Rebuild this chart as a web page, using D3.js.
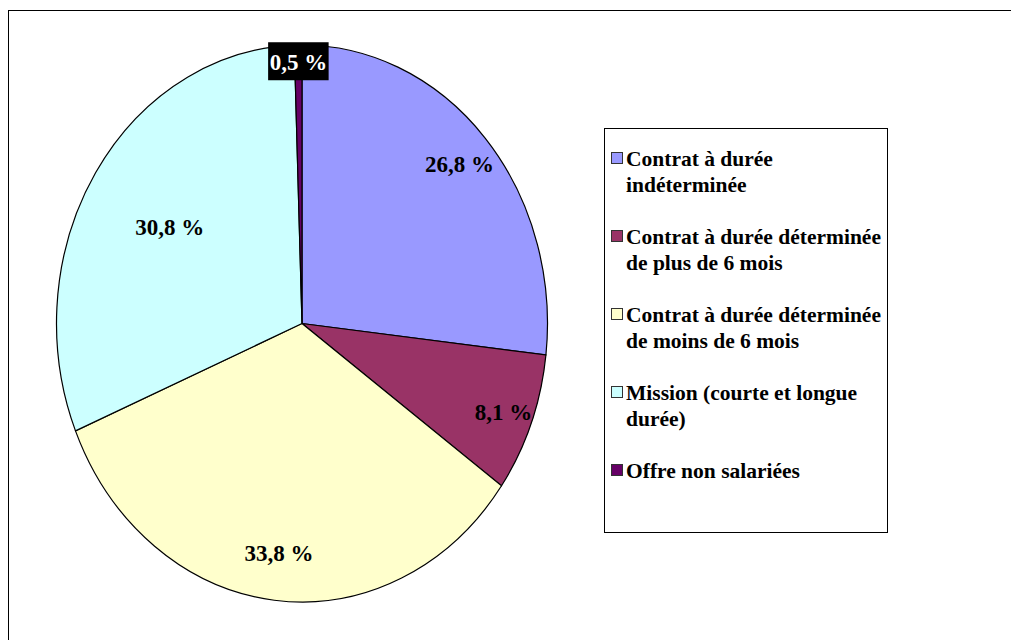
<!DOCTYPE html>
<html>
  <head>
    <meta charset="utf-8">
    <script src="https://d3js.org/d3.v7.min.js"></script>
    <style>
      body { margin: 0; background: #fff; }
    </style>
  </head>
  <body>
    <div id="chart"></div>
    <script type="text/javascript">

      // data
      var categories = [
        "Contrat à durée\nindéterminée",
        "Contrat à durée déterminée\nde plus de 6 mois",
        "Contrat à durée déterminée\nde moins de 6 mois",
        "Mission (courte et longue\ndurée)",
        "Offre non salariées"
      ];
      var values = [26.8, 8.1, 33.8, 30.8, 0.5];
      var colors = ["#9999FF", "#993366", "#FFFFCC", "#CCFFFF", "#660066"];

      // where the % labels sit, as a fraction of the radius
      var labelRadius = [0.86, 0.88, 0.83, 0.64, 0.94];

      var width = 1011, height = 640;
      var cx = 302, cy = 323.5, rx = 245.5, ry = 278.5;
      var serif = "Liberation Serif";

      var svg = d3.select("#chart")
        .append("svg")
        .attr("width", width)
        .attr("height", height);

      // chart frame (only top and left are inside the picture)
      svg.append("rect")
        .attr("x", 8.5).attr("y", 10.5)
        .attr("width", 1100).attr("height", 700)
        .attr("fill", "none")
        .attr("stroke", "#000")
        .attr("stroke-width", 1);

      var data = values.map(function(v, i) {
        return {name: categories[i], value: v, color: colors[i], lr: labelRadius[i]};
      });

      var pie = d3.pie()
        .sort(null)
        .value(function(d) { return d.value; });

      var arcs = pie(data);

      var arc = d3.arc().innerRadius(0).outerRadius(rx);

      // the pie is stretched vertically
      var g = svg.append("g")
        .attr("transform", "translate(" + cx + "," + cy + ") scale(1," + (ry / rx) + ")");

      g.selectAll("path")
        .data(arcs)
        .enter().append("path")
        .attr("d", arc)
        .attr("fill", function(d) { return d.data.color; })
        .attr("stroke", "#000")
        .attr("stroke-width", 1.2)
        .attr("vector-effect", "non-scaling-stroke");

      var fmt = function(v) { return d3.format(".1f")(v).replace(".", ",") + " %"; };

      arcs.forEach(function(d, i) {
        var a = (d.startAngle + d.endAngle) / 2;
        var k = d.data.lr;
        var x = cx + rx * k * Math.sin(a);
        var y = cy - ry * k * Math.cos(a);
        var small = d.data.value < 2;
        var t = svg.append("text")
          .attr("x", x)
          .attr("y", y + 8)
          .attr("text-anchor", "middle")
          .attr("font-size", 23)
          .attr("font-weight", "bold")
          .style("font-family", serif)
          .attr("fill", small ? "#fff" : "#000")
          .text(fmt(d.data.value));
        if (small) {
          var bb = t.node().getBBox();
          svg.insert("rect", function() { return t.node(); })
            .attr("x", bb.x - 1.5)
            .attr("y", y - 19.5)
            .attr("width", bb.width + 3)
            .attr("height", 38)
            .attr("fill", "#000");
        }
      });

      // legend
      var lx = 604.5, ly = 128.5, lw = 283, lh = 404;
      var legend = svg.append("g");
      legend.append("rect")
        .attr("x", lx).attr("y", ly)
        .attr("width", lw).attr("height", lh)
        .attr("fill", "#fff")
        .attr("stroke", "#000")
        .attr("stroke-width", 1);

      var lineH = 26, itemH = 78, firstBase = 166;

      data.forEach(function(d, i) {
        var base = firstBase + i * itemH;
        legend.append("rect")
          .attr("x", 611.5)
          .attr("y", base - 13.5)
          .attr("width", 11)
          .attr("height", 11)
          .attr("fill", d.color)
          .attr("stroke", "#333")
          .attr("stroke-width", 1);
        var txt = legend.append("text")
          .attr("x", 626)
          .attr("y", base)
          .attr("font-size", 21.5)
          .attr("font-weight", "bold")
          .style("font-family", serif)
          .attr("fill", "#000");
        d.name.split("\n").forEach(function(line, j) {
          txt.append("tspan")
            .attr("x", 626)
            .attr("y", base + j * lineH)
            .text(line);
        });
      });

    </script>
  </body>
</html>
